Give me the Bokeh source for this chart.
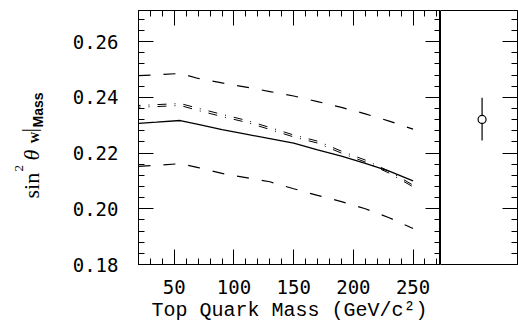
import math
from bokeh.plotting import figure
from bokeh.layouts import row
from bokeh.models import LinearAxis, FixedTicker, PrintfTickFormatter, Range1d
from bokeh.core.properties import value
from bokeh.embed import file_html
from bokeh.resources import INLINE

# ---- data ----
top_mass = [20, 35, 55, 70, 90, 110, 130, 150, 170, 190, 210, 230, 250]
upper_band = [0.2478, 0.2481, 0.2486, 0.2468, 0.2452, 0.2437, 0.2421, 0.2405, 0.2385, 0.2364, 0.2341, 0.2315, 0.2286]
lower_band = [0.2152, 0.2156, 0.2162, 0.2148, 0.2127, 0.2112, 0.2097, 0.2072, 0.2048, 0.2026, 0.2000, 0.1968, 0.1929]
central = [0.2307, 0.2311, 0.2317, 0.2303, 0.2284, 0.2268, 0.2252, 0.2236, 0.2212, 0.2189, 0.2163, 0.2135, 0.2100]
alt_a = [0.2371, 0.2374, 0.2378, 0.2361, 0.2339, 0.2318, 0.2292, 0.2265, 0.2243, 0.2207, 0.2175, 0.2135, 0.2085]
alt_b = [0.2365, 0.2367, 0.2371, 0.2353, 0.2331, 0.2311, 0.2285, 0.2258, 0.2236, 0.2200, 0.2168, 0.2128, 0.2079]

x_ticks = [50, 100, 150, 200, 250]
x_minor = [20, 30, 40, 60, 70, 80, 90, 110, 120, 130, 140, 160, 170, 180, 190, 210, 220, 230, 240, 260, 270]
y_ticks = [0.18, 0.20, 0.22, 0.24, 0.26]
y_minor = [0.184, 0.188, 0.192, 0.196, 0.204, 0.208, 0.212, 0.216, 0.224, 0.228, 0.232, 0.236,
           0.244, 0.248, 0.252, 0.256, 0.264, 0.268]

meas_x = [0.54]
meas_y = [0.2321]
meas_lo = [0.2245]
meas_hi = [0.2399]

X_RANGE = (20, 273)
Y_RANGE = (0.18, 0.2712)
TICK_FONT = "DejaVu Sans Mono"
H = 326
FRAME_TOP = 10
FRAME_BOTTOM = 264


def make_axis(ticks, minor, show_labels, fmt=None):
    ax = LinearAxis(ticker=FixedTicker(ticks=ticks, minor_ticks=minor))
    ax.major_tick_in = 15
    ax.major_tick_out = 0
    ax.minor_tick_in = 6
    ax.minor_tick_out = 0
    ax.axis_line_color = "black"
    ax.major_tick_line_color = "black"
    ax.minor_tick_line_color = "black"
    ax.major_tick_line_width = 1
    ax.minor_tick_line_width = 1
    if fmt is not None:
        ax.formatter = fmt
    if show_labels:
        ax.major_label_text_font = TICK_FONT
        ax.major_label_text_font_size = "19px"
        ax.major_label_text_color = "black"
    else:
        ax.major_label_text_font_size = "0px"
        ax.major_label_standoff = 0
    return ax


def clean(fig):
    fig.xgrid.visible = False
    fig.ygrid.visible = False
    fig.background_fill_color = "white"
    fig.border_fill_color = "white"


# ---- left strip holding the rotated y-axis title ----
# (its frame is aligned by the row with the main frame: page y 10..264)
lbl = figure(width=48, height=H, x_range=Range1d(0, 48),
             y_range=Range1d(H - FRAME_BOTTOM, H - FRAME_TOP),
             output_backend="svg", toolbar_location=None,
             x_axis_location=None, y_axis_location=None,
             min_border_left=0, min_border_right=0, min_border_top=FRAME_TOP,
             min_border_bottom=H - FRAME_BOTTOM)
clean(lbl)
lbl.outline_line_color = None

pieces = [
    ("sin", 31, 198, "Liberation Serif", "22px", "normal"),
    ("2", 18, 171, "Liberation Serif", "13px", "normal"),
    ("θ", 31, 160, "Liberation Serif", "22px", "italic"),
    ("W", 34, 143, "Liberation Serif", "12px", "bold"),
    ("|", 28, 132, "Liberation Serif", "22px", "normal"),
    ("Mass", 37, 127, "Liberation Sans", "14px", "bold"),
]
for txt, X, Y, font, size, style in pieces:
    lbl.text(x=[X], y=[H - Y], text=[txt], angle=math.pi / 2,
             text_font=value(font), text_font_size=value(size), text_font_style=style,
             text_color="black", text_align="left", text_baseline="alphabetic")

# ---- main panel ----
y_range = Range1d(*Y_RANGE)

p = figure(width=392, height=H, x_range=Range1d(*X_RANGE), y_range=y_range,
           output_backend="svg", toolbar_location=None,
           x_axis_location=None, y_axis_location=None,
           min_border_left=90, min_border_right=0, min_border_top=FRAME_TOP,
           min_border_bottom=H - FRAME_BOTTOM)
clean(p)
p.outline_line_color = "black"

bottom = make_axis(x_ticks, x_minor, True)
bottom.major_label_standoff = 15
bottom.axis_label = "Top Quark Mass (GeV/c²)"
bottom.axis_label_text_font = "Liberation Mono"
bottom.axis_label_text_font_size = "20px"
bottom.axis_label_text_font_style = "normal"
bottom.axis_label_text_color = "black"
bottom.axis_label_standoff = 2
p.add_layout(bottom, "below")

left = make_axis(y_ticks, y_minor, True, PrintfTickFormatter(format="%.2f"))
left.major_label_standoff = 20
p.add_layout(left, "left")

p.add_layout(make_axis(x_ticks, x_minor, False), "above")
p.add_layout(make_axis(y_ticks, y_minor, False), "right")

p.line(top_mass, upper_band, line_color="black", line_width=1.2, line_dash="12 13")
p.line(top_mass, lower_band, line_color="black", line_width=1.2, line_dash="12 13")
p.line(top_mass, central, line_color="black", line_width=1.3)
p.line(top_mass, alt_a, line_color="black", line_width=1.0, line_dash="9 8 1 8", line_dash_offset=7)
p.line(top_mass, alt_b, line_color="black", line_width=1.0, line_dash="9 8 1 8", line_dash_offset=7)

# ---- right panel with the measurement ----
p2 = figure(width=78, height=H, x_range=Range1d(0, 1), y_range=y_range,
            output_backend="svg", toolbar_location=None,
            x_axis_location=None, y_axis_location=None,
            min_border_left=0, min_border_right=1, min_border_top=FRAME_TOP,
            min_border_bottom=H - FRAME_BOTTOM)
clean(p2)
p2.outline_line_color = "black"
p2.add_layout(make_axis(y_ticks, y_minor, False), "right")

p2.segment(x0=meas_x, y0=meas_lo, x1=meas_x, y1=meas_hi, line_color="black", line_width=1.2)
p2.scatter(meas_x, meas_y, marker="circle", size=8, fill_color="white", line_color="black", line_width=1.2)

layout = row(lbl, p, p2)
open("out.html", "w").write(file_html(layout, INLINE))
